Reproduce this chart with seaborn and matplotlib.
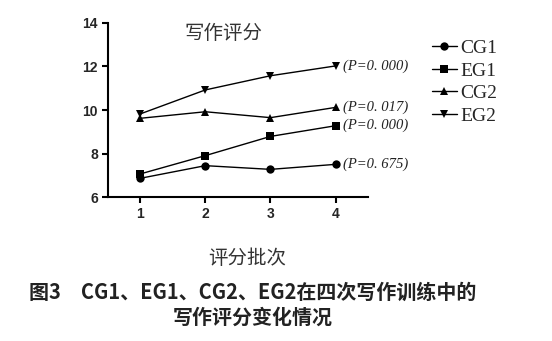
import matplotlib
matplotlib.use("Agg")
import matplotlib.pyplot as plt
import seaborn as sns
import pandas as pd

# Writing scores over four rounds
rounds = [1, 2, 3, 4]
cg1 = [6.87, 7.45, 7.28, 7.51]
eg1 = [7.07, 7.91, 8.79, 9.28]
cg2 = [9.62, 9.92, 9.65, 10.12]
eg2 = [9.82, 10.92, 11.57, 12.02]
groups = ["CG1", "EG1", "CG2", "EG2"]
p_labels = ["(P=0. 675)", "(P=0. 000)", "(P=0. 017)", "(P=0. 000)"]
markers = {"CG1": "o", "EG1": "s", "CG2": "^", "EG2": "v"}
y_ticks = [6, 8, 10, 12, 14]

df = pd.DataFrame({
    "round": rounds * 4,
    "score": cg1 + eg1 + cg2 + eg2,
    "group": [g for g in groups for _ in rounds],
})

sns.set_theme(style="ticks")
plt.rcParams["font.family"] = ["Noto Sans CJK SC", "DejaVu Sans"]

fig = plt.figure(figsize=(5.52, 3.41), dpi=100)
ax = fig.add_axes([0.195, 0.4214, 0.472, 0.512])

sns.lineplot(data=df, x="round", y="score", hue="group", style="group",
             markers=markers, dashes=False, palette=["black"] * 4,
             linewidth=1.0, markersize=6, markeredgewidth=0, ax=ax, legend=False)

ax.set_xlim(0.5, 4.5)
ax.set_ylim(6, 14)
tick_font = {"family": "Liberation Sans", "weight": "bold", "size": 10}
ax.set_xticks(rounds, labels=[str(r) for r in rounds], fontdict=tick_font)
ax.set_yticks(y_ticks, labels=[str(t) for t in y_ticks], fontdict=tick_font)
ax.set_xlabel("")
ax.set_ylabel("")
for s in ["top", "right"]:
    ax.spines[s].set_visible(False)
for s in ["left", "bottom"]:
    ax.spines[s].set_linewidth(1.5)
    ax.spines[s].set_color("black")
ax.tick_params(axis="both", direction="out", length=4, width=1.5, color="black",
               pad=3)

# P-value annotations at the last round
last = {"CG1": cg1[-1], "EG1": eg1[-1], "CG2": cg2[-1], "EG2": eg2[-1]}
for g, p in zip(groups, p_labels):
    ax.annotate(p, xy=(4, last[g]), xytext=(5, 0), textcoords="offset points",
                va="center", ha="left", fontsize=10.5, fontstyle="italic",
                fontfamily="Liberation Serif", color="#222222")

ax.text(2.28, 13.5, "写作评分", ha="center", va="center", fontsize=14,
        color="#333333", fontweight="light")

# Legend outside the axes on the right
handles = [plt.Line2D([], [], color="black", lw=1.0, marker=markers[g],
                      markersize=6, markeredgewidth=0) for g in groups]
fig.legend(handles, groups, loc="upper left", bbox_to_anchor=(0.75, 0.935),
           frameon=False, handlelength=1.3, handletextpad=0.2, labelspacing=0.25,
           prop={"family": "Liberation Serif", "size": 14})

fig.text(0.447, 1 - 258 / 341, "评分批次", ha="center", va="center",
         fontsize=14, color="#333333")
fig.text(0.457, 1 - 292 / 341, "图3　CG1、EG1、CG2、EG2在四次写作训练中的",
         ha="center", va="center", fontsize=14.4, fontweight="bold", color="#222222")
fig.text(0.457, 1 - 317 / 341, "写作评分变化情况",
         ha="center", va="center", fontsize=14.4, fontweight="bold", color="#222222")

fig.savefig("out.png", dpi=100)
